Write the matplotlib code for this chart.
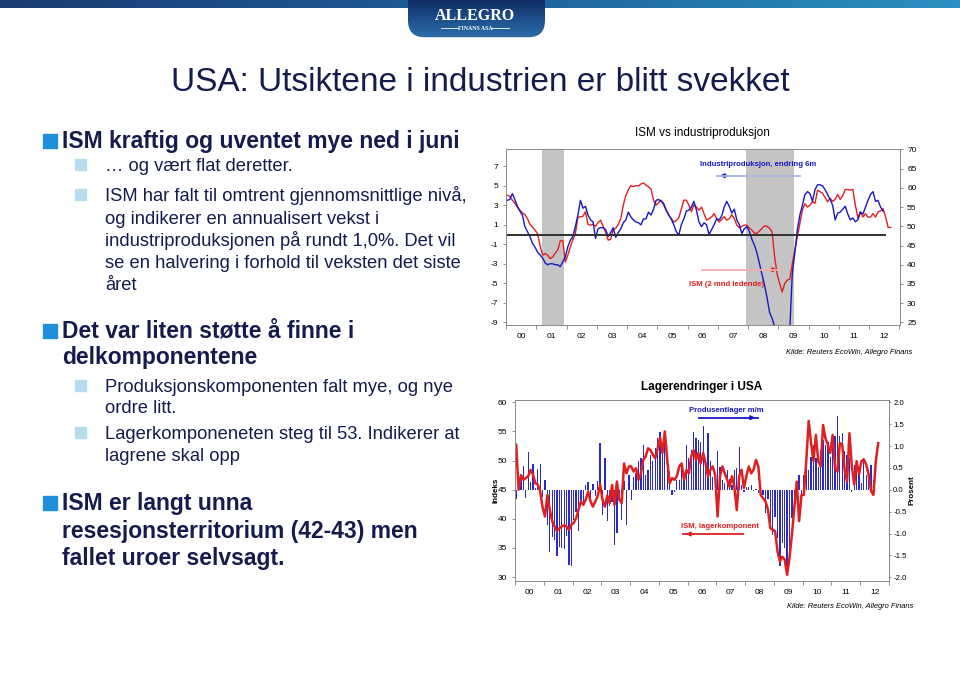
import numpy as np
import matplotlib
matplotlib.use('Agg')
import matplotlib.pyplot as plt
from matplotlib.colors import LinearSegmentedColormap
from matplotlib.patches import Rectangle, FancyBboxPatch

plt.rcParams['font.family'] = ['Liberation Sans', 'DejaVu Sans']
plt.rcParams['axes.unicode_minus'] = False

W, H = 960, 679

# ---------------- data (monthly from Jan 2000) ----------------
# industriproduksjon, endring 6m (venstre akse), Jan 2000 - Jun 2012
ip_6m = [3.5, 3.6, 4.2, 3.6, 2.9, 2.4, 2.0, 0.8, 0.3, -0.2, -0.9, -1.3,
         -1.8, -2.1, -2.4, -2.9, -3.1, -3.0, -3.0, -3.1, -3.1, -3.3, -2.8, -2.3,
         -1.25, -0.6, -0.2, 0.8, 2.0, 3.5, 2.7, 2.9, 2.0, 1.5, 1.3, -0.4,
         0.6, 0.7, 0.7, 0.5, -0.2, 0.2, 0.7, -0.3, 0.2, 0.6, 1.2, 1.5,
         2.3, 1.8, 1.5, 1.3, 1.2, 1.0, 1.6, 1.6, 2.3, 2.0, 2.6, 3.5,
         3.6, 3.4, 3.2, 2.5, 2.0, 1.6, 1.0, 0.3, -0.05, 1.0, 1.6, 2.4,
         2.5, 2.8, 3.4, 2.5, 1.3, 0.8, 1.2, 1.0, 0.0, 0.5, 1.0, 1.6,
         1.5, 1.9, 2.8, 3.4, 2.9, 2.2, 2.6, 1.5, 1.0, 0.1, 0.6, 0.8,
         0.3, -0.5, -1.1, -1.9, -3.0, -4.1, -5.2, -6.5, -8.0, -8.6, -9.5, -11.0,
         -12.5, -13.0, -12.5, -11.5, -9.8, -4.0, -1.9, 0.5, 2.0, 3.0, 4.1, 4.4,
         4.2, 3.4, 4.6, 5.1, 5.1, 5.0, 4.6, 4.1, 3.6, 3.0, 1.5, 2.2,
         2.3, 2.6, 2.9, 2.1, 1.5, 1.7, 1.3, 1.5, 2.3, 2.1, 2.8, 3.5,
         4.1, 4.4, 3.4, 3.5, 2.8, 2.4]

# ISM (2 mnd ledende, hoyre akse), Jan 2000 - Sep 2012
ism_lead = [58.1, 57.8, 56.8, 56.0, 55.0, 54.2, 53.5, 53.0, 52.0, 50.5, 49.8, 49.0,
            48.1, 45.0, 42.5, 42.9, 42.5, 41.6, 42.0, 43.0, 43.8, 46.2, 46.3, 40.7,
            42.5, 44.6, 46.5, 48.1, 52.3, 52.5, 52.6, 53.8, 50.5, 50.3, 50.5, 50.0,
            51.0, 51.6, 50.0, 48.5, 46.4, 46.6, 49.1, 49.5, 50.5, 52.0, 55.5, 58.0,
            59.5, 60.6, 60.3, 60.6, 60.5, 61.0, 61.3, 60.7, 60.3, 59.6, 56.8, 55.5,
            56.2, 56.8, 55.5, 54.2, 53.0, 52.0, 51.1, 51.5, 52.2, 54.5, 56.8, 56.8,
            55.5, 53.8, 55.5, 55.0, 54.2, 55.0, 53.3, 51.6, 52.0, 52.4, 53.3, 52.0,
            51.1, 51.8, 52.5, 51.6, 52.0, 53.0, 52.0, 50.3, 49.6, 50.0, 50.3, 50.3,
            49.5, 49.0, 48.2, 48.2, 48.8, 49.5, 50.1, 50.0, 49.5, 48.5, 42.0, 37.5,
            35.1, 32.9, 35.1, 36.0, 36.2, 40.3, 43.8, 47.2, 50.7, 54.2, 55.9, 55.0,
            55.5, 56.4, 56.0, 59.4, 59.0, 58.6, 57.5, 56.4, 57.3, 56.5, 57.0, 58.3,
            57.0, 58.0, 59.6, 59.6, 59.4, 59.6, 55.5, 52.2, 53.8, 52.4, 53.3, 52.4,
            52.4, 53.3, 52.4, 53.8, 54.0, 54.6, 52.4, 49.7, 49.7]

# produsentlager m/m, prosent (hoyre akse), Jan 2000 - Jun 2012
inv_mm = [-0.22, 0.40, 0.25, 0.55, -0.18, 0.87, 0.18, 0.60, 0.05, 0.48, 0.60, -0.16,
          0.23, -0.80, -1.41, -1.07, -1.14, -1.52, -1.30, -1.33, -1.35, -1.05, -1.71, -1.75,
          -0.69, -0.50, -0.95, -0.30, -0.27, 0.11, 0.18, -0.19, 0.13, -0.15, 0.20, 1.07,
          -0.57, 0.72, -0.72, -0.38, -0.27, -1.26, -0.98, -0.25, -0.69, 0.20, -0.80, 0.35,
          -0.23, 0.30, 0.38, 0.65, 0.72, 1.03, 0.34, 0.46, 0.80, 0.65, 0.95, 1.18,
          1.33, 1.03, 1.10, 0.57, 0.43, -0.11, -0.05, 0.23, 0.23, 0.50, 0.35, 1.03,
          0.72, 0.91, 1.33, 1.18, 1.14, 1.10, 1.45, 0.65, 1.30, 0.65, 0.30, 0.38,
          0.88, 0.53, 0.23, 0.15, 0.46, 0.25, 0.10, 0.45, 0.50, 0.97, 0.10, -0.05,
          0.07, 0.07, 0.10, -0.02, 0.03, -0.08, 0.18, -0.12, -0.53, -0.20, -0.84, -1.03,
          -0.61, -1.10, -1.75, -1.22, -1.33, -1.94, -1.41, -0.65, -0.46, -0.08, 0.34, -0.11,
          0.34, 0.53, 0.46, 0.76, 1.03, 0.72, 0.53, 0.91, 1.14, 1.03, 1.10, 0.76,
          1.10, 1.22, 1.68, 1.22, 1.30, 0.88, 0.80, 0.72, -0.04, 0.57, 0.61, 0.46,
          0.15, 0.72, 0.34, 0.46, 0.57, 0.23]

# ISM lagerkomponent, indeks (venstre akse), Jan 2000 - Aug 2012
ism_inv = [52.7, 45.0, 47.5, 46.7, 47.0, 47.3, 48.4, 47.6, 46.1, 45.9, 44.7, 42.0,
           40.4, 44.1, 41.6, 39.6, 38.7, 37.9, 38.4, 38.7, 38.9, 38.7, 38.1, 39.0,
           39.3, 40.1, 41.6, 43.0, 42.4, 43.3, 44.7, 43.0, 42.1, 43.0, 43.9, 45.9,
           43.3, 42.1, 44.0, 42.7, 45.8, 42.4, 46.4, 43.3, 42.7, 49.5, 47.8, 49.0,
           49.0, 48.1, 48.7, 46.7, 47.8, 50.1, 50.7, 52.1, 51.8, 51.0, 50.4, 52.1,
           54.0, 51.3, 55.0, 50.1, 46.1, 47.0, 46.7, 47.3, 49.0, 49.5, 46.7, 48.4,
           47.8, 50.7, 51.8, 50.1, 51.3, 49.5, 51.3, 49.5, 47.3, 48.4, 49.0, 47.5,
           40.4, 47.3, 49.0, 47.8, 46.7, 45.5, 47.3, 45.5, 41.5, 47.3, 48.4, 45.3,
           47.3, 49.0, 47.8, 48.4, 50.1, 49.0, 44.1, 43.5, 43.0, 41.6, 38.4, 38.1,
           37.9, 34.4, 32.7, 33.5, 33.0, 30.4, 33.3, 37.3, 41.9, 46.4, 39.6, 44.1,
           44.1, 50.0, 56.8, 53.0, 49.9, 54.4, 49.9, 49.0, 56.1, 53.8, 52.7, 51.3,
           54.4, 48.7, 48.1, 53.0, 52.7, 48.4, 46.4, 54.7, 49.0, 45.9, 49.9, 47.6,
           49.9, 50.2, 49.3, 47.6, 44.8, 44.1, 49.9, 53.0]

year_labels = ['00', '01', '02', '03', '04', '05', '06', '07', '08', '09', '10', '11', '12']
recession_start = [2001.2, 2007.92]
recession_end = [2001.92, 2009.5]


def month_pos(n):
    # midt i hver maaned fra jan 2000
    return 2000 + (np.arange(n) + 0.5) / 12


def fb(x0, y0, x1, y1):
    # piksel-boks (fra toppen) -> figurbrok
    return [x0 / W, 1 - y1 / H, (x1 - x0) / W, (y1 - y0) / H]


navy = '#141c4e'
blue = '#1818c0'
red = '#e02020'
tick_fs = 6

fig = plt.figure(figsize=(W / 100, H / 100), dpi=100)

# ---------------- topp-banner og logo ----------------
band = fig.add_axes(fb(0, 0, W, 8))
band.imshow(np.linspace(0, 1, 256)[None, :], aspect='auto',
            cmap=LinearSegmentedColormap.from_list('b', ['#1a3c74', '#1f5f98', '#2a92c2']))
band.axis('off')

logo = fig.add_axes(fb(408, 0, 545, 38))
logo.axis('off')
im = logo.imshow(np.linspace(0, 1, 64)[:, None] * np.ones((1, 64)), aspect='auto',
                 cmap=LinearSegmentedColormap.from_list('l', ['#0f2b62', '#1d4f8c', '#2b6fa8']),
                 extent=[0, 1, 0, 1])
clip = FancyBboxPatch((0, 0.02), 1, 1.5, boxstyle='round,pad=0,rounding_size=0.12',
                      mutation_aspect=3.7, transform=logo.transData, facecolor='none', edgecolor='none')
logo.add_patch(clip)
im.set_clip_path(clip)
logo.set_xlim(0, 1)
logo.set_ylim(0, 1)
fig.text(475 / W, 1 - 16 / H, 'ALLEGRO', color='white', fontsize=11.5, fontweight='bold',
         family=['Liberation Serif', 'DejaVu Serif'], ha='center', va='center')
fig.text(475 / W, 1 - 28 / H, 'FINANS ASA', color='white', fontsize=4.2, fontweight='bold',
         family=['Liberation Serif', 'DejaVu Serif'], ha='center', va='center')
fig.add_artist(plt.Line2D([441 / W, 458 / W], [1 - 28 / H] * 2, color='white', lw=0.6))
fig.add_artist(plt.Line2D([492 / W, 509 / W], [1 - 28 / H] * 2, color='white', lw=0.6))

# ---------------- tittel og punkter ----------------
fig.text(480 / W, 1 - 91 / H, 'USA: Utsiktene i industrien er blitt svekket', color=navy,
         fontsize=24, ha='center', va='baseline')

lvl1 = [(148, 'ISM kraftig og uventet mye ned i juni', True),
        (338, 'Det var liten støtte å finne i', True),
        (364, 'delkomponentene', False),
        (510, 'ISM er langt unna', True),
        (538, 'resesjonsterritorium (42-43) men', False),
        (565, 'fallet uroer selvsagt.', False)]
for yb, txt, bullet in lvl1:
    fig.text(62 / W, 1 - yb / H, txt, color=navy, fontsize=16.5, fontweight='bold', va='baseline')
    if bullet:
        fig.add_artist(Rectangle((43 / W, 1 - yb / H), 14 / W, 14 / H, color='#1e8fd8',
                                 transform=fig.transFigure))

lvl2 = [(171, '… og vært flat deretter.', True),
        (201, 'ISM har falt til omtrent gjennomsnittlige nivå,', True),
        (224, 'og indikerer en annualisert vekst i', False),
        (246, 'industriproduksjonen på rundt 1,0%. Det vil', False),
        (268, 'se en halvering i forhold til veksten det siste', False),
        (290, 'året', False),
        (392, 'Produksjonskomponenten falt mye, og nye', True),
        (413, 'ordre litt.', False),
        (439, 'Lagerkomponeneten steg til 53. Indikerer at', True),
        (461, 'lagrene skal opp', False)]
for yb, txt, bullet in lvl2:
    fig.text(105 / W, 1 - yb / H, txt, color=navy, fontsize=13.2, va='baseline')
    if bullet:
        fig.add_artist(Rectangle((75 / W, 1 - (yb - 1) / H), 11 / W, 11 / H, color='#b6dcef',
                                 transform=fig.transFigure))

# ---------------- ISM vs industriproduksjon ----------------
ax1 = fig.add_axes(fb(506, 149.3, 899.5, 325))
ax1r = ax1.twinx()
ax1.set_zorder(ax1r.get_zorder() + 1)
ax1.patch.set_visible(False)

for s, e in zip(recession_start, recession_end):
    ax1r.axvspan(s, e, color='#c4c4c4', lw=0)
ax1r.plot(month_pos(len(ism_lead)), ism_lead, color=red, lw=1.0)
ax1.plot(month_pos(len(ip_6m)), ip_6m, color=blue, lw=1.0)
ax1.hlines(0, 2000, 2012.56, color='#303030', lw=1.4)

ax1.set_xlim(2000, 2013)
ax1.set_ylim(-9.28, 8.74)
ax1r.set_ylim(24.3, 70.05)
ax1.set_yticks(range(-9, 8, 2))
ax1r.set_yticks(range(25, 71, 5))

# ---------------- Lagerendringer i USA ----------------
ax2 = fig.add_axes(fb(515, 400, 889, 580.7))
ax2r = ax2.twinx()
ax2.set_zorder(ax2r.get_zorder() + 1)
ax2.patch.set_visible(False)

ax2r.bar(month_pos(len(inv_mm)), inv_mm, width=0.045, color='#2a2ac8', lw=0)
ax2.plot(month_pos(len(ism_inv)), ism_inv, color=red, lw=1.8)

ax2.set_xlim(2000, 2013)
ax2.set_ylim(29.39, 60.39)
ax2r.set_ylim(-2.077, 2.053)
ax2.set_yticks(range(30, 61, 5))
ax2r.set_yticks(np.arange(-2.0, 2.01, 0.5))
ax2r.set_yticklabels(['%.1f' % v for v in np.arange(-2.0, 2.01, 0.5)])

for a in (ax1, ax2):
    a.set_xticks(np.arange(2000, 2014), labels=[])
    a.set_xticks(np.arange(2000.5, 2013), labels=year_labels, minor=True)
    a.tick_params(axis='x', which='major', length=3, width=0.6, color='#808080')
    a.tick_params(axis='x', which='minor', length=0, labelsize=tick_fs, pad=6)
for a in (ax1, ax1r, ax2, ax2r):
    a.tick_params(axis='y', length=2.5, width=0.6, color='#808080', labelsize=tick_fs, pad=3)
    for sp in a.spines.values():
        sp.set_color('#8c8c8c')
        sp.set_linewidth(0.7)
ax2r.tick_params(axis='y', length=1.5, pad=1.5, labelsize=5.6)

fig.text(702 / W, 1 - 133 / H, 'ISM vs industriproduksjon', fontsize=8.5, ha='center', va='center')
fig.text(702 / W, 1 - 387 / H, 'Lagerendringer i USA', fontsize=8.5, fontweight='bold',
         ha='center', va='center')
fig.text(912 / W, 1 - 353 / H, 'Kilde: Reuters EcoWin, Allegro Finans', fontsize=5.4,
         style='italic', ha='right', va='center')
fig.text(913 / W, 1 - 607 / H, 'Kilde: Reuters EcoWin, Allegro Finans', fontsize=5.4,
         style='italic', ha='right', va='center')
fig.text(496 / W, 1 - 490 / H, 'Indeks', fontsize=5.8, fontweight='bold', rotation=90,
         ha='center', va='center')
fig.text(912 / W, 1 - 490 / H, 'Prosent', fontsize=5.8, fontweight='bold', rotation=90,
         ha='center', va='center')


def arrow(x0, x1, y, col, lcol):
    fig.add_artist(plt.Line2D([x0 / W, x1 / W], [1 - y / H] * 2, color=lcol, lw=1.3))
    fig.add_artist(matplotlib.patches.FancyArrowPatch(
        ((x1 - (x1 - x0) * 0.15) / W, 1 - y / H), (x1 / W, 1 - y / H),
        transform=fig.transFigure, arrowstyle='-|>', mutation_scale=6, color=col, lw=1.2))


fig.text(758 / W, 1 - 165 / H, 'Industriproduksjon, endring 6m', fontsize=5.6, fontweight='bold',
         color=blue, ha='center', va='center')
arrow(800, 717, 175.7, blue, '#aab4e6')
fig.text(727 / W, 1 - 284 / H, 'ISM (2 mnd ledende)', fontsize=5.6, fontweight='bold',
         color=red, ha='center', va='center')
arrow(702, 780, 269.7, red, '#f0b0b0')
fig.text(726 / W, 1 - 411 / H, 'Produsentlager m/m', fontsize=5.6, fontweight='bold',
         color=blue, ha='center', va='center')
arrow(699, 758, 417.7, blue, blue)
fig.text(720 / W, 1 - 527 / H, 'ISM, lagerkomponent', fontsize=5.6, fontweight='bold',
         color=red, ha='center', va='center')
arrow(743, 683, 534, red, red)

fig.savefig('out.png', dpi=100)
